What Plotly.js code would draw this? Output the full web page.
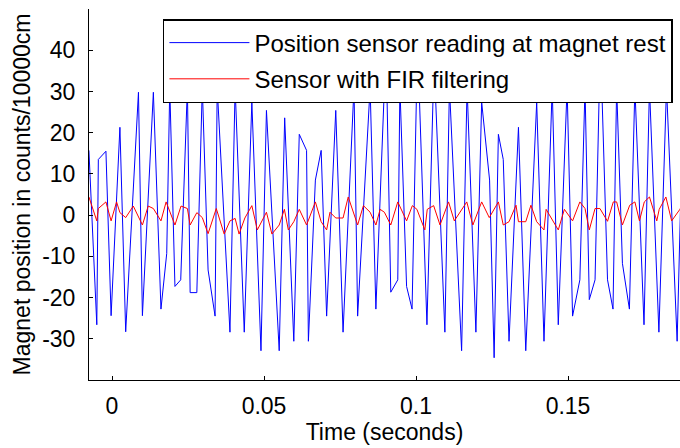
<!DOCTYPE html>
<html>
<head>
<meta charset="utf-8">
<script src="https://cdn.plot.ly/plotly-3.0.1.min.js"></script>
<style>html,body{margin:0;padding:0;background:#fff;}#chart{width:680px;height:448px;}</style>
</head>
<body>
<div id="chart"></div>
<script>
// Raw sensor reading (time in seconds, position in counts/10000cm)
var rawTime = [-0.0076,-0.0050,-0.0045,-0.0020,-0.0003,0.0026,0.0045,0.0087,0.0100,0.0136,0.0161,0.0180,0.0190,0.0207,0.0226,0.0248,0.0257,0.0279,0.0297,0.0316,0.0339,0.0346,0.0388,0.0405,0.0435,0.0460,0.0490,0.0508,0.0550,0.0568,0.0598,0.0616,0.0640,0.0646,0.0669,0.0688,0.0706,0.0736,0.0760,0.0796,0.0808,0.0849,0.0868,0.0896,0.0904,0.0917,0.0940,0.0947,0.0969,0.0987,0.1002,0.1010,0.1036,0.1057,0.1063,0.1095,0.1110,0.1150,0.1168,0.1197,0.1216,0.1242,0.1257,0.1271,0.1287,0.1306,0.1337,0.1361,0.1397,0.1421,0.1448,0.1468,0.1497,0.1515,0.1539,0.1556,0.1570,0.1589,0.1603,0.1611,0.1630,0.1648,0.1660,0.1679,0.1702,0.1720,0.1750,0.1768,0.1799,0.1824,0.1859,0.1880];
var rawPos = [15.7,-26.6,13.5,15.5,-24.4,21.3,-28.3,29.8,-24.4,29.8,-22.8,-9.3,31,-17.3,-15.7,31,-18.8,-18.8,31,-13.3,-24.5,31,-28.4,31,-28.4,27.4,-32.9,25.4,-32.9,23.6,-30.6,19.6,15.7,-30.6,8.5,15.7,-24.5,25.4,-28.4,31,-24.5,31,-22.8,31,31,-18.7,-15.7,31,-17.3,-22.8,31,31,-26.6,31,31,-28.4,31,-32.9,31,-28.4,27.4,8.5,-34.6,19.6,13.5,-30.6,21.3,-32.9,27.4,-30.6,31,-26.6,31,-24.5,-15.7,31,-20.5,-15.7,31,31,-15.7,-22.8,31,-11.7,-22.8,31,-26.6,31,-28.4,31,-30.6,31];

// FIR-filtered sensor reading
var firTime = [-0.0076,-0.0050,-0.0045,-0.0020,-0.0003,0.0015,0.0026,0.0045,0.0070,0.0100,0.0119,0.0136,0.0161,0.0178,0.0207,0.0227,0.0248,0.0257,0.0279,0.0297,0.0316,0.0343,0.0369,0.0388,0.0405,0.0418,0.0437,0.0460,0.0478,0.0508,0.0526,0.0550,0.0567,0.0580,0.0598,0.0616,0.0640,0.0669,0.0688,0.0706,0.0717,0.0736,0.0760,0.0777,0.0808,0.0827,0.0849,0.0868,0.0882,0.0896,0.0917,0.0940,0.0969,0.0988,0.1003,0.1029,0.1037,0.1058,0.1079,0.1107,0.1126,0.1167,0.1187,0.1216,0.1241,0.1271,0.1287,0.1306,0.1329,0.1337,0.1361,0.1378,0.1397,0.1421,0.1428,0.1468,0.1488,0.1515,0.1539,0.1556,0.1570,0.1589,0.1605,0.1630,0.1649,0.1660,0.1679,0.1703,0.1720,0.1735,0.1751,0.1768,0.1792,0.1800,0.1822,0.1841,0.1868,0.1880];
var firPos = [4.4,-1.4,1.6,3.2,-1.4,3.2,0.6,-0.6,2.2,-2.4,2.2,1.6,-1.4,3.2,-2.4,2.2,1.6,-2.4,0.6,-0.6,-4.5,1.6,-4.6,-1.4,-0.8,-4.6,-0.7,2.3,-3.6,0.7,-4.6,-2.4,1.4,-3.6,-1.6,1.4,-2.4,3.2,-1.6,-3.6,0.7,-0.7,-0.7,4.4,-2.4,2.3,0.7,-2.4,1.4,0.7,-2.4,3.2,-1.4,2.3,1.4,-3.6,1.4,2.3,-2.4,3.2,-1.4,3.2,-2.4,3.2,-0.6,3.2,-2.4,-1.6,2.4,-1.6,-1.6,2.4,-1.6,-3.6,1.4,-3.6,1.4,-1.4,3.2,1.6,-3.6,1.6,1.6,-1.5,3.2,3.2,-2.4,2.4,3.2,-1.4,3.2,4.4,-1.4,1.4,4.4,-1.4,1.4,3.0];

var seriesNames = ['Position sensor reading at magnet rest', 'Sensor with FIR filtering'];
var xTickVals = [0, 0.05, 0.1, 0.15];
var xTickText = ['0', '0.05', '0.1', '0.15'];
var yTickVals = [-30, -20, -10, 0, 10, 20, 30, 40];
var yTickText = ['-30', '-20', '-10', '0', '10', '20', '30', '40'];

var font = 'Liberation Sans, Arial, sans-serif';
var data = [
  {x: rawTime, y: rawPos, type: 'scatter', mode: 'lines', name: seriesNames[0],
   line: {color: '#0000FF', width: 1}, legendgroup: 'a'},
  {x: firTime, y: firPos, type: 'scatter', mode: 'lines', name: seriesNames[1],
   line: {color: '#FF0000', width: 1}, legendgroup: 'b'}
];
var layout = {
  width: 680, height: 448,
  margin: {l: 89, r: 0, t: 9, b: 68},
  paper_bgcolor: '#fff', plot_bgcolor: '#fff',
  font: {family: font, size: 23, color: '#000'},
  showlegend: true,
  legend: {x: 0.988, y: 0.973, xanchor: 'right', yanchor: 'top',
    bgcolor: '#fff', bordercolor: '#000', borderwidth: 1.5,
    font: {family: font, size: 24, color: '#000'}, itemwidth: 80,
    tracegroupgap: 2},
  xaxis: {range: [-0.00757, 0.18684], tickvals: xTickVals, ticktext: xTickText,
    ticks: 'inside', ticklen: 4, tickcolor: '#000', showgrid: false, zeroline: false,
    showline: true, linecolor: '#000', linewidth: 1, mirror: false,
    ticklabelstandoff: 5,
    tickfont: {family: font, size: 23, color: '#000'},
    title: {text: 'Time (seconds)', font: {family: font, size: 23, color: '#000'}, standoff: 3}},
  yaxis: {range: [-40, 50], tickvals: yTickVals, ticktext: yTickText,
    ticks: 'inside', ticklen: 4, tickcolor: '#000', showgrid: false, zeroline: false,
    showline: true, linecolor: '#000', linewidth: 1, mirror: false,
    ticklabelstandoff: 8,
    tickfont: {family: font, size: 23, color: '#000'},
    title: {text: 'Magnet position in counts/10000cm', font: {family: font, size: 23, color: '#000'}, standoff: 5}}
};
Plotly.newPlot('chart', data, layout, {displayModeBar: false, staticPlot: true});
</script>
</body>
</html>
